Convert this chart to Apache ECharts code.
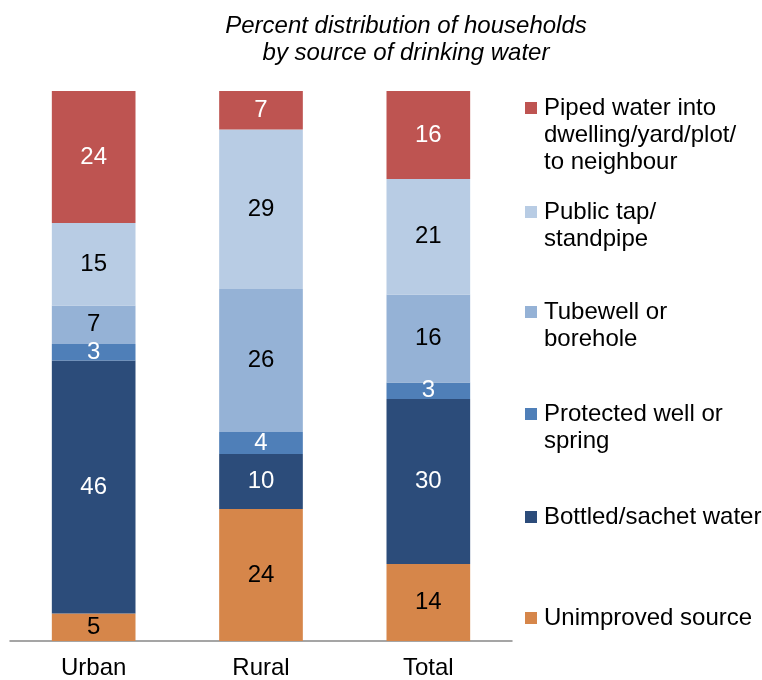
<!DOCTYPE html>
<html>
<head>
<meta charset="utf-8">
<script src="https://cdn.jsdelivr.net/npm/echarts@6/dist/echarts.min.js"></script>
<style>html,body{margin:0;padding:0;background:#fff}#c{width:762px;height:680px}</style>
</head>
<body>
<div id="c"></div>
<script>
const categories = ['Urban', 'Rural', 'Total'];
const unimproved = [5, 24, 14];
const bottled = [46, 10, 30];
const protectedWell = [3, 4, 3];
const tubewell = [7, 26, 16];
const publicTap = [15, 29, 21];
const piped = [24, 7, 16];

const seriesDefs = [
  { name: 'Unimproved source', data: unimproved, color: '#D6864A', label: '#000', lines: 1, iconY: 618 },
  { name: 'Bottled/sachet water', data: bottled, color: '#2C4C7A', label: '#fff', lines: 1, iconY: 517 },
  { name: 'Protected well or\nspring', data: protectedWell, color: '#4F7FB8', label: '#fff', lines: 2, iconY: 414 },
  { name: 'Tubewell or\nborehole', data: tubewell, color: '#95B2D6', label: '#000', lines: 2, iconY: 312 },
  { name: 'Public tap/\nstandpipe', data: publicTap, color: '#B8CCE4', label: '#000', lines: 2, iconY: 212 },
  { name: 'Piped water into\ndwelling/yard/plot/\nto neighbour', data: piped, color: '#BE5451', label: '#fff', lines: 3, iconY: 108 }
];

const LH = 27;
const FS = 24;
const FONT = 'Liberation Sans, Arial, sans-serif';

const chart = echarts.init(document.getElementById('c'));
chart.setOption({
  animation: false,
  backgroundColor: '#fff',
  textStyle: { fontFamily: FONT },
  title: {
    text: 'Percent distribution of households\nby source of drinking water',
    left: 406, top: 13, textAlign: 'center', padding: 0,
    textStyle: { fontFamily: FONT, fontStyle: 'italic', fontWeight: 'normal', fontSize: FS, lineHeight: 27, color: '#000' }
  },
  legend: seriesDefs.map(s => ({
    data: [s.name],
    left: 525,
    top: s.iconY - (2 * s.lines - 1) * LH / 2,
    padding: 0,
    icon: 'rect',
    itemWidth: 12, itemHeight: 12, itemGap: 7,
    selectedMode: false,
    formatter: name => '\n'.repeat(s.lines - 1) + name,
    textStyle: { fontFamily: FONT, fontSize: FS, lineHeight: LH, color: '#000', padding: [0, 0, 0, 2] }
  })),
  grid: { left: 10, right: 250, top: 91, bottom: 39, containLabel: false },
  xAxis: {
    type: 'category', data: categories,
    axisLine: { lineStyle: { color: '#888', width: 1.5 } },
    axisTick: { show: false },
    axisLabel: { fontFamily: FONT, fontSize: FS, color: '#000', margin: 15 }
  },
  yAxis: { type: 'value', min: 0, max: 100, show: false, splitLine: { show: false } },
  series: seriesDefs.map(s => ({
    name: s.name, type: 'bar', stack: 'all', barWidth: '50%', data: s.data,
    itemStyle: { color: s.color, borderWidth: 0 },
    label: { show: true, position: 'inside', fontFamily: FONT, fontSize: FS, color: s.label }
  }))
});
</script>
</body>
</html>
